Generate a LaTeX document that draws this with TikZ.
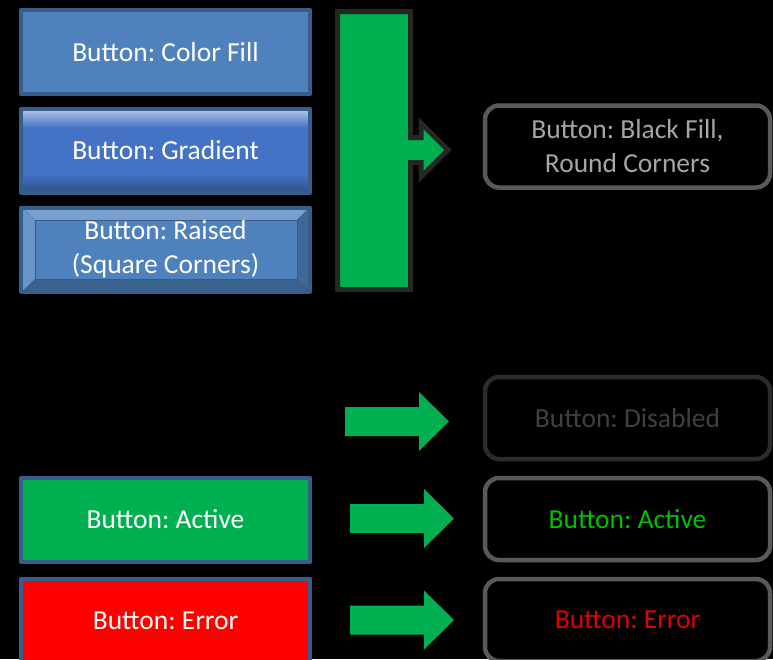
\documentclass[tikz,border=0pt]{standalone}
\usepackage{fontspec}
\setmainfont{Carlito}
\frenchspacing
\definecolor{btnblue}{HTML}{4F81BD}
\definecolor{btnedge}{HTML}{385D8A}
\definecolor{gradblue}{HTML}{4472C4}
\definecolor{okgreen}{HTML}{00B050}
\definecolor{errred}{HTML}{FF0000}
\begin{document}
\begin{tikzpicture}[x=1pt,y=-1pt,line join=round,
  font=\fontsize{27.5}{34}\selectfont,
  btn/.style={minimum width=289pt,minimum height=84pt,inner sep=0pt,
    text=white,line width=4pt,draw=btnedge,align=center},
  rbtn/.style={rounded corners=14pt,minimum width=285pt,minimum height=82pt,
    inner sep=0pt,line width=4.5pt,fill=black,align=center}]
\fill[black] (0,0) rectangle (773,659);
\clip (0,0) rectangle (773,659);
% gradient and bevel faces
\fill[gradblue] (22,109) rectangle (310,192);
\shade[top color=gradblue!40!white,bottom color=gradblue] (22,109) rectangle (310,128);
\shade[top color=gradblue,bottom color=gradblue!70!black] (22,174) rectangle (310,192);
\fill[btnblue!75!white] (23,208)--(309,208)--(297,220)--(35,220)--cycle;
\fill[btnblue!85!white] (23,208)--(35,220)--(35,279)--(23,291)--cycle;
\fill[btnblue!80!black] (309,208)--(309,291)--(297,279)--(297,220)--cycle;
\fill[btnblue!75!black] (23,291)--(309,291)--(297,279)--(35,279)--cycle;
\draw[btnblue!70!black,line width=1pt,fill=btnblue] (35,220) rectangle (297,279);
% left buttons
\node[btn,fill=btnblue] (fill) at (165.5,52) {Button: Color Fill};
\node[btn] (grad) at (165.5,150.5) {Button: Gradient};
\node[btn] (raised) at (165.5,249.5) {Button: Raised\\(Square Corners)};
\node[btn,fill=okgreen] (act) at (165.5,519.5) {Button: Active};
\node[btn,fill=errred] (err) at (165.5,620.5) {Button: Error};
% right buttons
\node[rbtn,draw=black!65,text=black!35] (blk) at (627.5,146.5) {Button: Black Fill,\\Round Corners};
\node[rbtn,draw=black!83,text=black!75] (dis) at (627.5,418) {Button: Disabled};
\node[rbtn,draw=black!65,text=green!75!black] (actr) at (627.5,519) {Button: Active};
\node[rbtn,draw=black!65,text=red!88!black] (errr) at (627.5,620) {Button: Error};
% bent arrow
\draw[fill=okgreen,draw=black!85,line width=5pt,line join=miter]
  (337.5,11.5)--(410.5,11.5)--(410.5,137.5)--(421,137.5)--(421,123)--(448,150)
  --(421,177)--(421,162.5)--(410.5,162.5)--(410.5,289.5)--(337.5,289.5)--cycle;
% block arrows
\foreach \x/\y in {345/421.5, 350/518.5, 350/620}
\fill[okgreen] (\x,\y-14.5)--(\x+74,\y-14.5)--(\x+74,\y-29.5)--(\x+104,\y)
  --(\x+74,\y+29.5)--(\x+74,\y+14.5)--(\x,\y+14.5)--cycle;
\end{tikzpicture}
\end{document}
